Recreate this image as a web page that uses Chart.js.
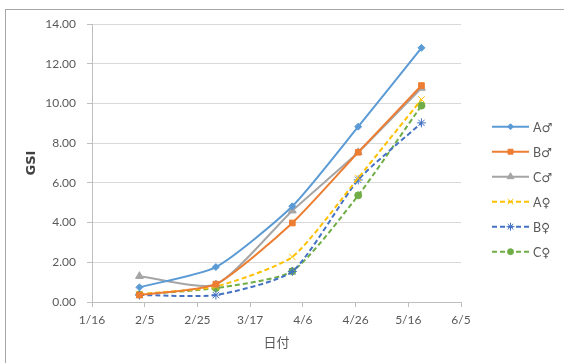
<!DOCTYPE html>
<html>
<head>
<meta charset="utf-8">
<script src="https://cdn.jsdelivr.net/npm/chart.js@4.4.1/dist/chart.umd.min.js"></script>
<style>
  html, body { margin: 0; padding: 0; background: #fff; overflow: hidden; }
  #wrap { position: relative; width: 564px; height: 363px; }
  #frame { position: absolute; left: 5px; top: 9px; width: 600px; height: 400px; border: 1px solid #a6a6a6; }
  canvas { position: absolute; left: 0; top: 0; }
</style>
</head>
<body>
<div id="wrap">
  <div id="frame"></div>
  <canvas id="gsiChart" width="564" height="363"></canvas>
</div>
<script>
// sampling days, counted from 1/16
const sampleDays = [18, 47, 76, 101, 125];
const dateTicks = ['1/16', '2/5', '2/25', '3/17', '4/6', '4/26', '5/16', '6/5'];

const seriesNames = ['A♂', 'B♂', 'C♂', 'A♀', 'B♀', 'C♀'];
const aMale   = [0.74, 1.76, 4.82, 8.83, 12.80];
const bMale   = [0.35, 0.90, 3.98, 7.54, 10.90];
const cMale   = [1.30, 0.88, 4.60, 7.54, 10.78];
const aFemale = [0.40, 0.78, 2.27, 6.25, 10.20];
const bFemale = [0.35, 0.35, 1.54, 6.15, 9.02];
const cFemale = [0.38, 0.70, 1.55, 5.37, 9.89];

const styles = [
    { color: '#5b9bd5', point: 'rectRot',  r: 3.5, dash: [] },
    { color: '#ed7d31', point: 'rect',     r: 4,   dash: [] },
    { color: '#a5a5a5', point: 'triangle', r: 4.5, dash: [] },
    { color: '#ffc000', point: 'crossRot', r: 4.5, dash: [5, 3] },
    { color: '#4472c4', point: 'star',     r: 4.5, dash: [5, 3] },
    { color: '#70ad47', point: 'circle',   r: 3.5, dash: [5, 3] }
];

const allValues = [aMale, bMale, cMale, aFemale, bFemale, cFemale];

const datasets = allValues.map((vals, i) => ({
    label: seriesNames[i],
    data: vals.map((v, j) => ({ x: sampleDays[j], y: v })),
    borderColor: styles[i].color,
    backgroundColor: styles[i].color,
    borderWidth: 2,
    borderDash: styles[i].dash,
    pointStyle: styles[i].point,
    pointRadius: styles[i].r,
    pointBorderWidth: 1,
    tension: 0.2
}));

// legend drawn by hand: line + marker like Excel
const excelLegend = {
    id: 'excelLegend',
    afterDraw(chart) {
        const ctx = chart.ctx;
        ctx.save();
        chart.data.datasets.forEach((ds, i) => {
            const y = 126.7 + 25 * i;
            ctx.strokeStyle = ds.borderColor;
            ctx.lineWidth = 2;
            ctx.setLineDash(ds.borderDash);
            ctx.beginPath();
            ctx.moveTo(492, y);
            ctx.lineTo(529, y);
            ctx.stroke();
            ctx.setLineDash([]);
            ctx.fillStyle = ds.borderColor;
            ctx.lineWidth = 1;
            Chart.helpers.drawPoint(ctx, {
                pointStyle: ds.pointStyle,
                radius: ds.pointRadius - 0.5,
                borderWidth: 1,
                rotation: 0
            }, 510.5, y);
            ctx.fillStyle = '#595959';
            ctx.font = '12.5px Lato, "DejaVu Sans", sans-serif';
            ctx.textBaseline = 'middle';
            ctx.textAlign = 'left';
            ctx.fillText(ds.label, 533, y + 1);
        });
        ctx.restore();
    }
};

const tickFont = { family: 'Lato, "DejaVu Sans", sans-serif', size: 12 };

new Chart(document.getElementById('gsiChart').getContext('2d'), {
    type: 'line',
    data: { datasets: datasets },
    options: {
        responsive: false,
        animation: false,
        layout: { padding: { top: 24, right: 103, left: 0, bottom: 0 } },
        plugins: {
            legend: { display: false },
            tooltip: { enabled: false }
        },
        scales: {
            x: {
                type: 'linear',
                min: 0,
                max: 140,
                afterBuildTicks: (scale) => {
                    scale.ticks = dateTicks.map((t, i) => ({ value: i * 20 }));
                },
                afterFit: (scale) => { scale.height = 61; },
                ticks: {
                    color: '#595959',
                    font: tickFont,
                    padding: 6,
                    maxRotation: 0,
                    callback: (v) => dateTicks[Math.round(v / 20)]
                },
                grid: { drawOnChartArea: false, drawTicks: true, tickLength: 5, color: '#bfbfbf' },
                border: { color: '#bfbfbf' },
                title: {
                    display: true,
                    text: '日付',
                    color: '#595959',
                    font: { family: '"Noto Sans CJK JP", sans-serif', size: 13 },
                    padding: { top: 0, bottom: 13 }
                }
            },
            y: {
                min: 0,
                max: 14,
                afterFit: (scale) => { scale.width = 92; },
                ticks: {
                    stepSize: 2,
                    color: '#595959',
                    font: tickFont,
                    padding: 11,
                    callback: (v) => v.toFixed(2)
                },
                grid: { color: '#d9d9d9', tickLength: 5, tickColor: '#bfbfbf' },
                border: { color: '#bfbfbf' },
                title: {
                    display: true,
                    text: 'GSI',
                    color: '#404040',
                    font: { family: '"DejaVu Sans", sans-serif', size: 13, weight: 'bold' },
                    padding: { top: 24, bottom: 0 }
                }
            }
        }
    },
    plugins: [excelLegend]
});
</script>
</body>
</html>
